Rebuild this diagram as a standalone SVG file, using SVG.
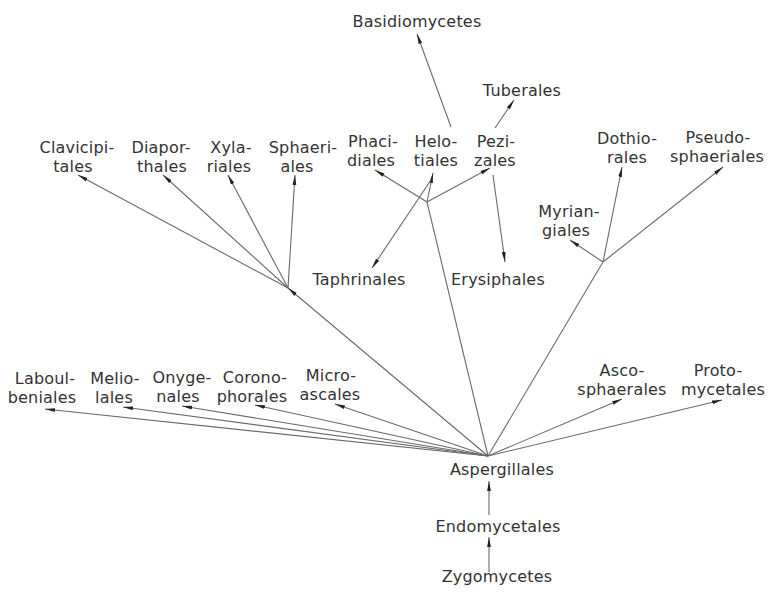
<svg xmlns="http://www.w3.org/2000/svg" width="770" height="597" viewBox="0 0 770 597">
<defs>
<marker id="ah" markerUnits="userSpaceOnUse" markerWidth="11" markerHeight="6" refX="10" refY="2.5" orient="auto">
<path d="M0,0.6 L10,2.5 L0,4.4 Z" fill="#222"/>
</marker>
<style>
text{font-family:"DejaVu Sans","Liberation Sans",sans-serif;font-size:16px;letter-spacing:0.2px;fill:#333;text-anchor:middle}
.c line{stroke:#6a6a6a;stroke-width:1.1;fill:none;marker-end:url(#ah)}
.c line.n{marker-end:none}
</style>
</defs>
<rect width="770" height="597" fill="#fff"/>
<g class="c" id="connectors">
<line x1="488" y1="456" x2="45" y2="409"/>
<line x1="488" y1="456" x2="123" y2="407"/>
<line x1="488" y1="456" x2="182" y2="406"/>
<line x1="488" y1="456" x2="255" y2="405"/>
<line x1="488" y1="456" x2="335" y2="404"/>
<line x1="488" y1="456" x2="622" y2="399"/>
<line x1="488" y1="456" x2="722" y2="400"/>
<line x1="488" y1="456" x2="288" y2="288"/>
<line x1="488" y1="456" x2="427" y2="202" class="n"/>
<line x1="488" y1="456" x2="603" y2="262" class="n"/>
<line x1="489" y1="515" x2="489" y2="481"/>
<line x1="489" y1="572" x2="489" y2="537"/>
<line x1="288" y1="288" x2="78" y2="175"/>
<line x1="288" y1="288" x2="163" y2="175"/>
<line x1="288" y1="288" x2="228" y2="175"/>
<line x1="288" y1="288" x2="295" y2="175"/>
<line x1="427" y1="202" x2="375" y2="170"/>
<line x1="427" y1="202" x2="433" y2="173"/>
<line x1="427" y1="202" x2="490" y2="168"/>
<line x1="451" y1="127" x2="417" y2="34"/>
<line x1="495" y1="128" x2="514" y2="100"/>
<line x1="431" y1="180" x2="372" y2="268"/>
<line x1="493" y1="175" x2="505" y2="262"/>
<line x1="603" y1="262" x2="570" y2="240"/>
<line x1="603" y1="262" x2="622" y2="167"/>
<line x1="603" y1="262" x2="723" y2="167"/>
</g>
<g id="basidiomycetes"><text x="417" y="27">Basidiomycetes</text></g>
<g id="tuberales"><text x="522" y="96">Tuberales</text></g>
<g id="clavicipitales"><text x="77" y="153">Clavicipi-</text><text x="73" y="172">tales</text></g>
<g id="diaporthales"><text x="161" y="153">Diapor-</text><text x="162" y="172">thales</text></g>
<g id="xylariales"><text x="231" y="153">Xyla-</text><text x="229" y="172">riales</text></g>
<g id="sphaeriales"><text x="303" y="153">Sphaeri-</text><text x="297" y="172">ales</text></g>
<g id="phacidiales"><text x="373" y="147">Phaci-</text><text x="371" y="166">diales</text></g>
<g id="helotiales"><text x="436" y="147">Helo-</text><text x="436" y="166">tiales</text></g>
<g id="pezizales"><text x="496" y="147">Pezi-</text><text x="495" y="166">zales</text></g>
<g id="dothiorales"><text x="627" y="144">Dothio-</text><text x="627" y="163">rales</text></g>
<g id="pseudosphaeriales"><text x="718" y="143">Pseudo-</text><text x="717" y="162">sphaeriales</text></g>
<g id="myriangiales"><text x="569" y="217">Myrian-</text><text x="566" y="236">giales</text></g>
<g id="taphrinales"><text x="359" y="285">Taphrinales</text></g>
<g id="erysiphales"><text x="498" y="285">Erysiphales</text></g>
<g id="laboulbeniales"><text x="45" y="384">Laboul-</text><text x="42" y="403">beniales</text></g>
<g id="meliolales"><text x="115" y="384">Melio-</text><text x="114" y="403">lales</text></g>
<g id="onygenales"><text x="182" y="383">Onyge-</text><text x="178" y="402">nales</text></g>
<g id="coronophorales"><text x="255" y="383">Corono-</text><text x="252" y="402">phorales</text></g>
<g id="microascales"><text x="331" y="381">Micro-</text><text x="330" y="400">ascales</text></g>
<g id="ascosphaerales"><text x="622" y="376">Asco-</text><text x="622" y="395">sphaerales</text></g>
<g id="protomycetales"><text x="718" y="376">Proto-</text><text x="723" y="395">mycetales</text></g>
<g id="aspergillales"><text x="502" y="475">Aspergillales</text></g>
<g id="endomycetales"><text x="498" y="532">Endomycetales</text></g>
<g id="zygomycetes"><text x="497" y="582">Zygomycetes</text></g>
</svg>
